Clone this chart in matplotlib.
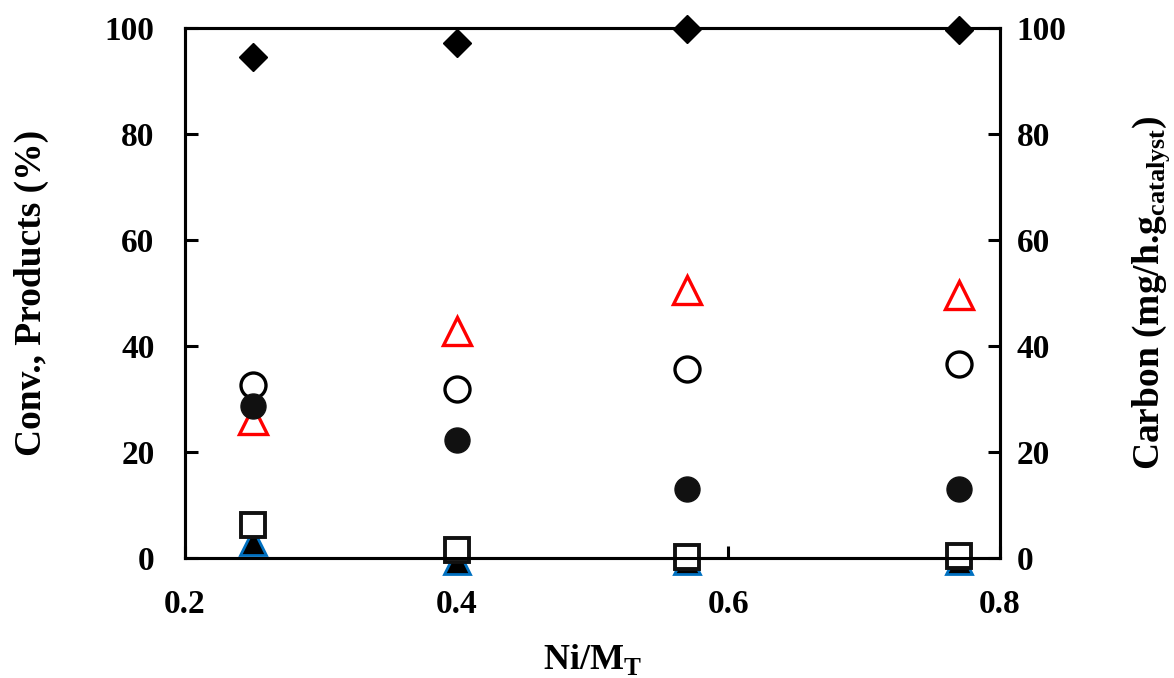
import matplotlib.pyplot as plt

plt.rcParams['font.family'] = 'Liberation Serif'
plt.rcParams['font.weight'] = 'bold'
plt.rcParams['mathtext.fontset'] = 'custom'
plt.rcParams['mathtext.rm'] = 'Liberation Serif:bold'
plt.rcParams['mathtext.bf'] = 'Liberation Serif:bold'

ratio = [0.25, 0.40, 0.57, 0.77]
conv = [94.5, 97.2, 99.8, 99.6]
red_tri = [26.0, 42.8, 50.5, 49.6]
open_circ = [32.7, 31.8, 35.6, 36.5]
filled_circ = [28.7, 22.2, 13.0, 13.0]
open_sq = [6.3, 1.5, 0.2, 0.3]
black_tri = [3.0, -0.5, -0.5, -0.5]

fig = plt.figure(figsize=(11.74, 6.78), dpi=100)
ax = fig.add_axes([0.1576, 0.177, 0.694, 0.782])

ax.plot(ratio, black_tri, '^', ms=19, mfc='black', mec='#0070C0', mew=2.0, ls='none', zorder=3, clip_on=False)
ax.plot(ratio, red_tri, '^', ms=20, mfc='white', mec='red', mew=2.4, ls='none', zorder=3, clip_on=False)
ax.plot(ratio, open_circ, 'o', ms=18, mfc='white', mec='black', mew=2.4, ls='none', zorder=3, clip_on=False)
ax.plot(ratio, filled_circ, 'o', ms=18, mfc='#111111', mec='#111111', ls='none', zorder=4, clip_on=False)
ax.plot(ratio, open_sq, 's', ms=17, mfc='white', mec='#111111', mew=2.8, ls='none', zorder=5, clip_on=False)
ax.plot(ratio, conv, 'D', ms=14, mfc='black', mec='black', ls='none', zorder=3, clip_on=False)

ax.set_xlim(0.2, 0.8)
ax.set_ylim(0, 100)
ax.set_xticks([0.2, 0.4, 0.6, 0.8])
ax.set_yticks(range(0, 101, 20))
for s in ax.spines.values():
    s.set_linewidth(2.2)
ax.tick_params(direction='in', width=2.2, length=9, labelsize=24)
ax.tick_params(axis='y', pad=22)
ax.tick_params(axis='x', pad=22)
ax.set_xlabel('Ni/M$_\\mathbf{T}$', fontsize=26, fontweight='bold', labelpad=16)
ax.set_ylabel('Conv., Products (%)', fontsize=27, fontweight='bold', labelpad=40)

ax2 = ax.twinx()
ax2.set_ylim(0, 100)
ax2.set_yticks(range(0, 101, 20))
ax2.tick_params(direction='in', width=2.2, length=9, labelsize=24, pad=12)
for s in ax2.spines.values():
    s.set_linewidth(2.2)
ax2.set_ylabel('Carbon (mg/h.g$_\\mathbf{catalyst}$)', fontsize=27, fontweight='bold', labelpad=46)

fig.savefig('out.png', dpi=100)
